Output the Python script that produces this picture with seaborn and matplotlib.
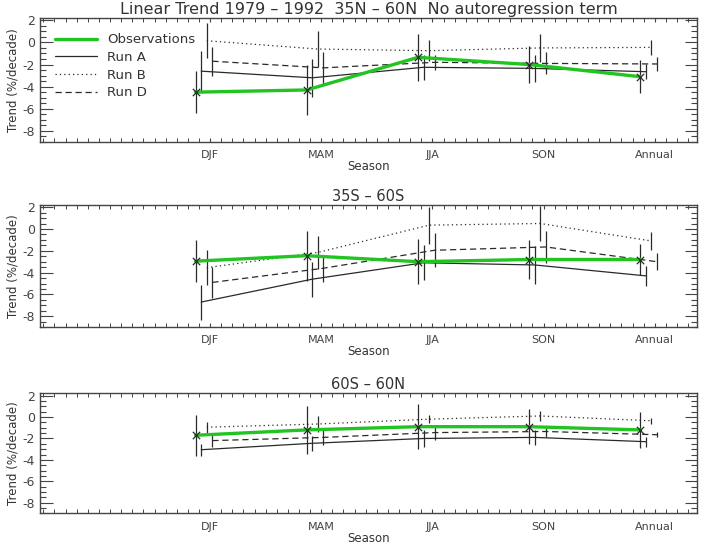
import numpy as np
import pandas as pd
import matplotlib
matplotlib.use("Agg")
import matplotlib.pyplot as plt
from matplotlib.ticker import MultipleLocator, FixedLocator
from matplotlib.lines import Line2D
import seaborn as sns

seasons = ["DJF", "MAM", "JJA", "SON", "Annual"]
series_names = ["Observations", "Run A", "Run B", "Run D"]

# Panel 1: 35N - 60N
obs_n = [-4.5, -4.3, -1.35, -2.0, -3.1]
obs_n_err = [1.9, 2.3, 2.1, 1.7, 1.5]
runA_n = [-2.6, -3.2, -2.25, -2.35, -2.65]
runA_n_err = [1.8, 1.7, 1.15, 1.2, 0.7]
runB_n = [0.15, -0.6, -0.75, -0.5, -0.45]
runB_n_err = [1.6, 1.6, 0.95, 1.25, 0.7]
runD_n = [-1.7, -2.3, -1.8, -1.9, -1.95]
runD_n_err = [1.3, 1.45, 0.7, 1.0, 0.6]

# Panel 2: 35S - 60S
obs_s = [-2.95, -2.45, -3.0, -2.8, -2.8]
obs_s_err = [1.9, 2.3, 2.05, 1.75, 1.45]
runA_s = [-6.7, -4.6, -3.1, -3.3, -4.3]
runA_s_err = [1.6, 1.6, 1.6, 1.75, 0.95]
runB_s = [-3.55, -2.15, 0.35, 0.5, -1.1]
runB_s_err = [1.6, 1.5, 1.7, 1.6, 0.8]
runD_s = [-4.9, -3.6, -1.95, -1.65, -3.0]
runD_s_err = [1.4, 1.25, 1.55, 1.5, 0.78]

# Panel 3: 60S - 60N
obs_g = [-1.7, -1.2, -0.9, -0.9, -1.2]
obs_g_err = [1.9, 2.25, 2.1, 1.65, 1.65]
runA_g = [-3.05, -2.45, -2.0, -1.9, -2.3]
runA_g_err = [0.55, 0.7, 0.77, 0.72, 0.45]
runB_g = [-0.95, -0.65, -0.2, 0.1, -0.35]
runB_g_err = [0.5, 0.73, 0.4, 0.46, 0.3]
runD_g = [-2.2, -1.9, -1.45, -1.35, -1.65]
runD_g_err = [0.6, 0.7, 0.65, 0.5, 0.25]

titles = ["Linear Trend 1979 \u2013 1992  35N \u2013 60N  No autoregression term",
          "35S \u2013 60S", "60S \u2013 60N"]
y_ticks = [2, 0, -2, -4, -6, -8]

panels = [
    [(obs_n, obs_n_err), (runA_n, runA_n_err), (runB_n, runB_n_err), (runD_n, runD_n_err)],
    [(obs_s, obs_s_err), (runA_s, runA_s_err), (runB_s, runB_s_err), (runD_s, runD_s_err)],
    [(obs_g, obs_g_err), (runA_g, runA_g_err), (runB_g, runB_g_err), (runD_g, runD_g_err)],
]

sns.set_theme(style="ticks")
plt.rcParams["font.family"] = ["DejaVu Sans"]
plt.rcParams["text.color"] = "#333333"
plt.rcParams["axes.labelcolor"] = "#333333"
plt.rcParams["xtick.color"] = "#444444"
plt.rcParams["ytick.color"] = "#444444"

offsets = [-0.13, -0.08, -0.03, 0.02]
green = "#22c422"
ink = "#2a2a2a"
styles = {
    "Observations": dict(color=green, lw=2.4, ls="-"),
    "Run A": dict(color=ink, lw=0.9, ls="-"),
    "Run B": dict(color=ink, lw=0.9, ls=(0, (1, 2.5))),
    "Run D": dict(color=ink, lw=0.9, ls=(0, (5, 3))),
}

fig = plt.figure(figsize=(7.11, 5.48), dpi=100)
rects = [(0.0563, 0.741, 0.924, 0.226),
         (0.0563, 0.403, 0.924, 0.223),
         (0.0563, 0.063, 0.924, 0.219)]

xpos = np.arange(len(seasons))
for pi, (rect, pdata, title) in enumerate(zip(rects, panels, titles)):
    ax = fig.add_axes(rect)
    rows = []
    for name, off, (vals, errs) in zip(series_names, offsets, pdata):
        for xi, v, e in zip(xpos, vals, errs):
            rows.append(dict(series=name, x=xi + off, y=v, err=e))
    df = pd.DataFrame(rows)
    for name in ["Run A", "Run B", "Run D", "Observations"]:
        sub = df[df.series == name]
        st = styles[name]
        ax.vlines(sub.x, sub.y - sub.err, sub.y + sub.err, colors=ink, lw=0.9, zorder=3)
        sns.lineplot(data=sub, x="x", y="y", ax=ax, color=st["color"], lw=st["lw"],
                     linestyle=st["ls"], sort=False, estimator=None,
                     zorder=4 if name == "Observations" else 2, legend=False)
        if name == "Observations":
            ax.scatter(sub.x, sub.y, marker="x", s=28, color=ink, lw=0.9, zorder=5)
    ax.set_xlim(-1.53, 4.38)
    ax.set_ylim(-9, 2.2)
    ax.xaxis.set_major_locator(FixedLocator(xpos))
    ax.set_xticks(xpos)
    ax.set_xticklabels(seasons, fontsize=8)
    ax.xaxis.set_minor_locator(MultipleLocator(0.1))
    ax.set_yticks(y_ticks)
    ax.set_yticklabels([str(t) for t in y_ticks], fontsize=9)
    ax.yaxis.set_minor_locator(MultipleLocator(0.5))
    ax.tick_params(axis="both", which="both", direction="in", top=True, right=True)
    ax.tick_params(axis="y", which="major", length=9, width=0.8)
    ax.tick_params(axis="y", which="minor", length=4.5, width=0.8)
    ax.tick_params(axis="x", which="major", length=3, width=0.8, pad=6)
    ax.tick_params(axis="x", which="minor", length=3, width=0.7)
    for sp in ax.spines.values():
        sp.set_color("#444444")
        sp.set_linewidth(1.0)
    ax.set_xlabel("Season", fontsize=8.5, labelpad=0)
    ax.set_ylabel("Trend (%/decade)", fontsize=8.5, labelpad=2)
    ax.set_title(title, fontsize=11.5 if pi == 0 else 10.5, color="#333333", pad=3)
    if pi == 0:
        handles = [Line2D([0], [0], color=styles[n]["color"], lw=styles[n]["lw"],
                          linestyle=styles[n]["ls"]) for n in series_names]
        ax.legend(handles, series_names, loc="upper left", bbox_to_anchor=(0.01, 0.94),
                  frameon=False, fontsize=9.5, handlelength=3.2, handletextpad=0.8,
                  labelspacing=0.35, borderaxespad=0.2)

fig.savefig("out.png", dpi=100)
